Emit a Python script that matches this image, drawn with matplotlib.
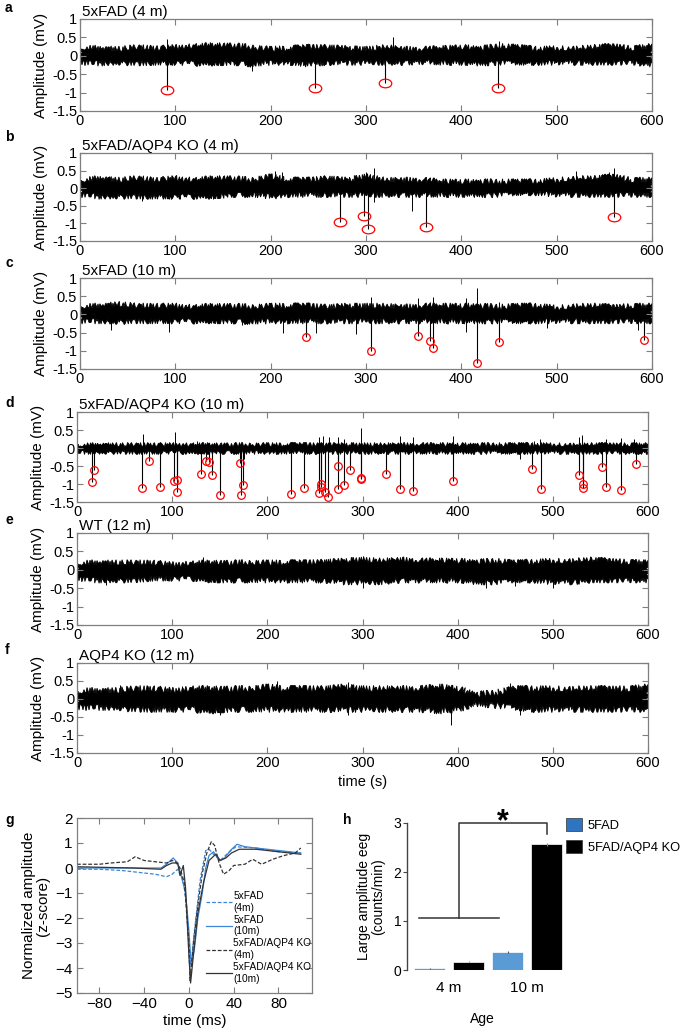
import numpy as np
import matplotlib
matplotlib.use("Agg")
import matplotlib.pyplot as plt
from matplotlib.path import Path
from matplotlib.transforms import Affine2D
from matplotlib.patches import Patch

plt.rcParams['font.family'] = ['Liberation Sans', 'DejaVu Sans']

W, H = 685, 1030
fig = plt.figure(figsize=(W / 100, H / 100), dpi=100)

# ---------------- data ----------------
env_t = list(range(0, 601, 20))

a_hi = [0.24, 0.21, 0.19, 0.24, 0.21, 0.24, 0.27, 0.29, 0.29, 0.24, 0.19, 0.21, 0.24, 0.24, 0.21, 0.19,
        0.24, 0.19, 0.19, 0.21, 0.24, 0.21, 0.27, 0.24, 0.19, 0.21, 0.21, 0.24, 0.27, 0.21, 0.27]
a_lo = [-0.19, -0.21, -0.19, -0.21, -0.19, -0.19, -0.21, -0.21, -0.19, -0.24, -0.19, -0.19, -0.24, -0.19, -0.19,
        -0.19, -0.19, -0.19, -0.17, -0.19, -0.19, -0.21, -0.19, -0.19, -0.19, -0.19, -0.19, -0.19, -0.19, -0.19,
        -0.24]
a_ev_t = [91, 247, 320, 438]
a_ev_v = [-0.93, -0.87, -0.73, -0.87]
a_sp_t = [91, 180, 247, 326, 328, 440, 565, 62, 150]
a_sp_v = [0.45, -0.4, 0.22, 0.3, 0.5, 0.4, 0.32, 0.3, 0.35]

b_hi = [0.24, 0.29, 0.24, 0.29, 0.24, 0.29, 0.24, 0.29, 0.29, 0.24, 0.34, 0.24, 0.24, 0.29, 0.24, 0.34,
        0.24, 0.24, 0.24, 0.19, 0.19, 0.19, 0.19, 0.19, 0.19, 0.24, 0.29, 0.29, 0.34, 0.24, 0.24]
b_lo = [-0.19, -0.24, -0.24, -0.24, -0.24, -0.24, -0.24, -0.24, -0.19, -0.19, -0.24, -0.19, -0.19, -0.19, -0.19,
        -0.19, -0.19, -0.19, -0.19, -0.19, -0.19, -0.19, -0.19, -0.14, -0.14, -0.19, -0.19, -0.19, -0.19, -0.19,
        -0.19]
b_ev_t = [273, 298, 302, 363, 560]
b_ev_v = [-0.95, -0.78, -1.15, -1.10, -0.83]
b_sp_t = [30, 65, 150, 205, 212, 300, 304, 308, 520, 555, 560, 65, 105, 140, 348, 308]
b_sp_v = [0.35, 0.3, 0.35, 0.5, 0.45, 0.45, 0.4, 0.58, 0.48, 0.45, 0.58, -0.35, -0.3, -0.3, -0.65, -0.4]

c_hi = [0.24, 0.24, 0.29, 0.24, 0.24, 0.24, 0.21, 0.24, 0.24, 0.21, 0.24, 0.24, 0.24, 0.21, 0.24, 0.24,
        0.24, 0.21, 0.24, 0.24, 0.24, 0.24, 0.21, 0.24, 0.24, 0.19, 0.24, 0.24, 0.21, 0.24, 0.24]
c_lo = [-0.19, -0.19, -0.21, -0.19, -0.19, -0.19, -0.19, -0.19, -0.19, -0.21, -0.19, -0.19, -0.19, -0.19,
        -0.19, -0.19, -0.19, -0.19, -0.19, -0.19, -0.19, -0.19, -0.19, -0.19, -0.19, -0.19, -0.19, -0.19,
        -0.19, -0.19, -0.19]
c_ev_t = [237, 305, 355, 367, 370, 416, 439, 592]
c_ev_v = [-0.63, -1.0, -0.58, -0.73, -0.93, -1.33, -0.75, -0.70]
c_sp_t = [305, 355, 367, 370, 405, 416, 440, 290, 30, 33, 93, 213, 248, 290, 405, 490, 585, 170]
c_sp_v = [0.47, 0.45, 0.35, 0.48, 0.45, 0.72, 0.35, 0.3, 0.3, -0.42, -0.48, -0.5, -0.5, -0.55, -0.48, -0.38,
          -0.42, -0.3]

d_hi = [0.11] * 31
d_lo = [-0.1] * 31
d_ev_t = [15.8, 17.5, 68.4, 75.8, 87, 101.8, 105, 104.6, 130.5, 135.8, 138.2, 141.8, 150.5, 171.2, 171.9,
          174, 225.3, 238.6, 254, 256.8, 256.8, 260.7, 263.9, 274.4, 274.4, 280.7, 286.7, 298.2, 298.2,
          324.2, 339.3, 353.3, 394.7, 478.3, 487.4, 527, 531.2, 531.2, 551.2, 556.2, 571.6, 587.7]
d_ev_v = [-0.95, -0.62, -1.12, -0.37, -1.08, -0.93, -0.89, -1.23, -0.72, -0.36, -0.40, -0.76, -1.31, -0.42,
          -1.31, -1.04, -1.29, -1.11, -1.24, -1.01, -1.08, -1.22, -1.36, -0.49, -1.13, -1.04, -0.60, -0.82,
          -0.85, -0.71, -1.15, -1.20, -0.93, -0.58, -1.15, -0.75, -0.99, -1.11, -0.52, -1.07, -1.18, -0.44]
d_sp_t = [69.5, 103, 126, 254, 258, 265, 274, 281, 298, 339, 353, 395, 480, 487, 527, 531, 556, 572, 585,
          225, 466, 175]
d_sp_v = [0.39, 0.45, 0.2, 0.3, 0.32, 0.3, 0.3, 0.25, 0.55, 0.34, 0.3, 0.33, 0.2, 0.25, 0.3, 0.35, 0.25,
          0.28, 0.25, -0.3, -0.3, -0.3]

e_hi = [0.2, 0.2, 0.2, 0.2, 0.2, 0.15, 0.18, 0.2, 0.2, 0.2, 0.2, 0.2, 0.2, 0.22, 0.25, 0.28,
        0.25, 0.28, 0.25, 0.25, 0.25, 0.22, 0.25, 0.2, 0.22, 0.25, 0.25, 0.28, 0.25, 0.22, 0.2]
e_lo = [-0.24, -0.29, -0.29, -0.29, -0.24, -0.24, -0.24, -0.29, -0.29, -0.29, -0.29, -0.29, -0.29, -0.29, -0.34,
        -0.34, -0.34, -0.29, -0.29, -0.29, -0.29, -0.34, -0.34, -0.29, -0.29, -0.34, -0.34, -0.29, -0.29, -0.29,
        -0.29]
e_ev_t = []
e_ev_v = []
e_sp_t = [132, 260, 300, 350, 540, 595, 30, 300, 430, 500, 460]
e_sp_v = [0.35, 0.3, 0.38, 0.3, 0.35, 0.3, -0.4, -0.5, -0.5, -0.5, -0.45]

f_hi = [0.24, 0.24, 0.24, 0.29, 0.29, 0.24, 0.29, 0.29, 0.29, 0.29, 0.34, 0.29, 0.29, 0.29, 0.34, 0.29,
        0.29, 0.29, 0.29, 0.34, 0.29, 0.13, 0.18, 0.29, 0.29, 0.29, 0.29, 0.29, 0.29, 0.29, 0.34]
f_lo = [-0.24, -0.24, -0.24, -0.29, -0.29, -0.29, -0.29, -0.34, -0.29, -0.29, -0.29, -0.29, -0.29, -0.29, -0.29,
        -0.29, -0.29, -0.29, -0.29, -0.34, -0.29, -0.13, -0.18, -0.24, -0.29, -0.29, -0.29, -0.29, -0.29, -0.29,
        -0.29]
f_ev_t = []
f_ev_v = []
f_sp_t = [45, 150, 210, 285, 360, 455, 110, 150, 285, 393, 465]
f_sp_v = [0.4, 0.35, 0.5, 0.48, 0.4, 0.45, 0.35, -0.45, -0.45, -0.72, -0.45]

trace_titles = ["5xFAD (4 m)", "5xFAD/AQP4 KO (4 m)", "5xFAD (10 m)", "5xFAD/AQP4 KO (10 m)",
                "WT (12 m)", "AQP4 KO (12 m)"]
panel_letters = ["a", "b", "c", "d", "e", "f"]

# Panel g waveforms
g_fad4_t = [-100, -80, -60, -40, -30, -20, -15, -10, -5, -2, 0, 2, 5, 10, 15, 18, 22, 28, 35, 42, 60, 80, 100]
g_fad4_v = [-0.05, -0.05, -0.1, -0.2, -0.25, -0.35, -0.25, -0.05, -0.5, -1.5, -3.0, -3.9, -2.5, -0.5, 0.7,
            0.75, 0.55, 0.3, 0.6, 0.85, 0.8, 0.65, 0.6]
g_fad10_t = [-100, -70, -40, -25, -20, -14, -10, -7, -3, 0, 2, 5, 8, 12, 15, 18, 22, 27, 32, 37, 43, 50, 60,
             80, 100]
g_fad10_v = [0.0, 0.0, 0.0, 0.0, 0.15, 0.4, 0.2, -0.3, -1.0, -2.5, -3.9, -3.2, -2.0, -1.0, 0.0, 0.5, 0.65,
             0.3, 0.4, 0.7, 0.95, 0.85, 0.8, 0.7, 0.6]
g_ko4_t = [-100, -80, -70, -55, -48, -40, -30, -20, -15, -12, -8, -4, 0, 1, 4, 8, 12, 16, 20, 23, 27, 31,
           36, 40, 50, 57, 65, 75, 85, 95, 100]
g_ko4_v = [0.15, 0.15, 0.2, 0.25, 0.45, 0.3, 0.25, 0.2, 0.3, 0.25, 0.0, -0.6, -3.0, -4.5, -3.0, -1.5, -0.2,
           0.6, 1.05, 0.9, 0.2, -0.25, -0.1, 0.1, 0.15, 0.35, 0.15, 0.35, 0.5, 0.6, 0.8]
g_ko10_t = [-100, -50, -25, -20, -15, -10, -8, -5, -3, 0, 1.5, 4, 8, 13, 18, 24, 28, 33, 38, 45, 60, 80, 100]
g_ko10_v = [0.05, 0.0, -0.05, 0.1, 0.2, 0.2, -0.3, 0.1, -0.8, -3.5, -4.6, -3.5, -1.8, -0.6, 0.3, 0.55, 0.3,
            0.4, 0.6, 0.75, 0.75, 0.65, 0.55]
g_labels = ["5xFAD\n(4m)", "5xFAD\n(10m)", "5xFAD/AQP4 KO\n(4m)", "5xFAD/AQP4 KO\n(10m)"]

# Panel h bars
h_groups = ["4 m", "10 m"]
h_fad = [0.04, 0.37]
h_fad_err = [0.01, 0.02]
h_ko = [0.17, 2.57]
h_ko_err = [0.01, 0.03]
h_series = ["5FAD", "5FAD/AQP4 KO"]

# ---------------- helpers ----------------
SPINE = '#7f7f7f'


def add_ax(l, t, r, b):
    return fig.add_axes([l / W, 1 - b / H, (r - l) / W, (b - t) / H])


ellipse = Path(Affine2D().scale(1.45, 1.0).transform(Path.unit_circle().vertices), Path.unit_circle().codes)

boxes = [(80, 19, 652, 111), (80, 153, 652, 241), (80, 278, 652, 369),
         (77, 412, 648, 502), (77, 533, 648, 625), (77, 663, 648, 753)]
letter_y = [8, 137, 263, 403, 520, 650]
datas = [(a_hi, a_lo, a_ev_t, a_ev_v, a_sp_t, a_sp_v),
         (b_hi, b_lo, b_ev_t, b_ev_v, b_sp_t, b_sp_v),
         (c_hi, c_lo, c_ev_t, c_ev_v, c_sp_t, c_sp_v),
         (d_hi, d_lo, d_ev_t, d_ev_v, d_sp_t, d_sp_v),
         (e_hi, e_lo, e_ev_t, e_ev_v, e_sp_t, e_sp_v),
         (f_hi, f_lo, f_ev_t, f_ev_v, f_sp_t, f_sp_v)]
sketch = [2.8, 2.8, 2.8, 2.0, 2.8, 3.2]

for i, (box, dat) in enumerate(zip(boxes, datas)):
    hi, lo, evt, evv, spt, spv = dat
    ax = add_ax(*box)
    poly = ax.fill(env_t + env_t[::-1], hi + lo[::-1], facecolor='k', edgecolor='k', lw=0.6)[0]
    poly.set_sketch_params(scale=sketch[i], length=1.7, randomness=6.0)
    ax.vlines(spt, 0, spv, color='k', lw=0.7)
    if evt:
        ax.vlines(evt, 0, evv, color='k', lw=0.8)
        if i < 2:
            ax.plot(evt, evv, ls='none', marker=ellipse, ms=9, mfc='none', mec='red', mew=0.9)
        else:
            ax.plot(evt, evv, ls='none', marker='o', ms=5.5, mfc='none', mec='red', mew=0.9)
    ax.set_xlim(0, 600)
    ax.set_ylim(-1.5, 1)
    ax.set_xticks(range(0, 601, 100))
    ax.set_yticks([1, 0.5, 0, -0.5, -1, -1.5])
    ax.set_yticklabels(["1", "0.5", "0", "-0.5", "-1", "-1.5"])
    ax.tick_params(direction='in', top=True, right=True, length=4, width=0.8, color=SPINE,
                   labelsize=10.5, pad=2)
    for s in ax.spines.values():
        s.set_color(SPINE)
        s.set_linewidth(0.9)
    ax.set_ylabel("Amplitude (mV)", fontsize=11, labelpad=3)
    ax.text(0.004, 1.0, trace_titles[i], transform=ax.transAxes, ha='left', va='bottom', fontsize=11)
    fig.text(5 / W, 1 - letter_y[i] / H, panel_letters[i], fontsize=10, fontweight='bold', va='center')
    if i == 5:
        ax.set_xlabel("time (s)", fontsize=10.5, labelpad=4)

# ---------------- panel g ----------------
axg = add_ax(77, 818, 312, 993)
blue = '#3d85d8'
grey = '#333333'
axg.plot(g_fad4_t, g_fad4_v, color=blue, ls=(0, (3, 1.5)), lw=0.9, label=g_labels[0])
axg.plot(g_fad10_t, g_fad10_v, color=blue, ls='-', lw=0.9, label=g_labels[1])
axg.plot(g_ko4_t, g_ko4_v, color=grey, ls=(0, (3, 1.5)), lw=0.9, label=g_labels[2])
axg.plot(g_ko10_t, g_ko10_v, color=grey, ls='-', lw=0.9, label=g_labels[3])
axg.set_xlim(-100, 110)
axg.set_ylim(-5, 2)
axg.set_xticks([-80, -40, 0, 40, 80])
axg.set_yticks(range(-5, 3))
axg.tick_params(direction='in', top=True, right=True, length=4, width=0.8, color=SPINE, labelsize=11, pad=3)
for s in axg.spines.values():
    s.set_color(SPINE)
    s.set_linewidth(0.9)
axg.set_xlabel("time (ms)", fontsize=11, labelpad=2)
axg.set_ylabel("Normalized amplitude\n(z-score)", fontsize=11, labelpad=4, linespacing=1.0)
leg = axg.legend(loc='lower left', bbox_to_anchor=(0.53, 0.03), frameon=False, fontsize=7.3,
                 handlelength=2.6, handletextpad=0.15, labelspacing=0.2, borderaxespad=0)
fig.text(5 / W, 1 - 820 / H, "g", fontsize=10, fontweight='bold', va='center')

# ---------------- panel h ----------------
axh = add_ax(407, 823, 566, 970)
xg = np.arange(len(h_groups))
bw = 0.39
bar_blue = '#5b9bd5'
axh.bar(xg - 0.25, h_fad, bw, color=bar_blue, edgecolor='white', lw=0.5)
axh.bar(xg + 0.25, h_ko, bw, color='black', edgecolor='white', lw=0.5)
axh.errorbar(xg - 0.25, h_fad, yerr=h_fad_err, fmt='none', ecolor='#555555', elinewidth=0.8, capsize=0)
axh.errorbar(xg + 0.25, h_ko, yerr=h_ko_err, fmt='none', ecolor='#888888', elinewidth=0.8, capsize=0)
axh.set_xlim(-0.54, 1.5)
axh.set_ylim(0, 3)
axh.set_yticks([0, 1, 2, 3])
axh.set_xticks(xg)
axh.set_xticklabels(h_groups, fontsize=11)
for s in ['top', 'right', 'bottom']:
    axh.spines[s].set_visible(False)
axh.spines['left'].set_color('#444444')
axh.spines['left'].set_linewidth(1.0)
axh.tick_params(axis='y', direction='out', length=3, labelsize=10, pad=1, color='#444444')
axh.tick_params(axis='x', length=0, pad=8)
fig.text(482 / W, 1 - 1019 / H, "Age", fontsize=10, ha='center', va='center')
axh.set_ylabel("Large amplitude eeg\n(counts/min)", fontsize=10, labelpad=6, linespacing=1.0)
# significance bracket
br = '#333333'
axh.plot([-0.385, 0.64], [1.07, 1.07], color=br, lw=1.1, clip_on=False)
axh.plot([0.128, 0.128, 1.25, 1.25], [1.07, 3.0, 3.0, 2.78], color=br, lw=1.1, clip_on=False)
axh.text(0.69, 3.02, "*", fontsize=22, ha='center', va='center', fontweight='bold')
handles = [Patch(facecolor='#2e74c0', edgecolor='#333333', lw=0.5),
           Patch(facecolor='black', edgecolor='#333333', lw=0.5)]
fig.legend(handles, h_series, loc='upper left', bbox_to_anchor=(566 / W, 1 - 818 / H), frameon=False,
           fontsize=9.3, handlelength=1.2, handleheight=1.2, handletextpad=0.5, labelspacing=0.6,
           borderaxespad=0, borderpad=0)
fig.text(343 / W, 1 - 820 / H, "h", fontsize=10, fontweight='bold', va='center')

fig.savefig("out.png", dpi=100)
